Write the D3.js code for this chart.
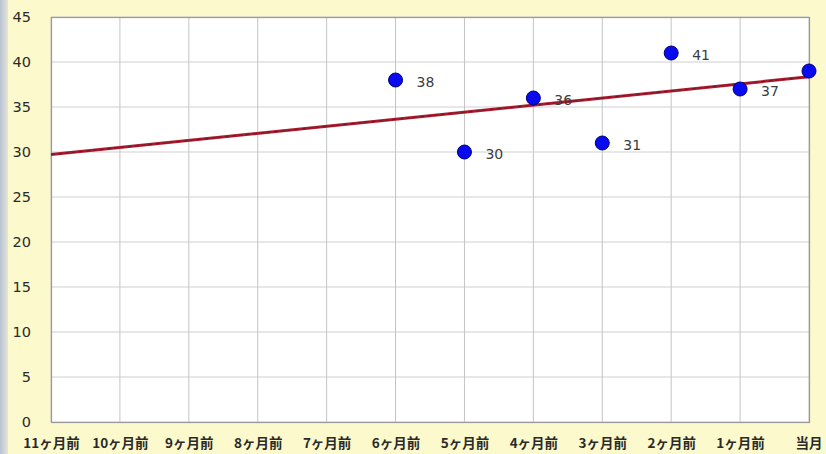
<!DOCTYPE html>
<html>
<head>
<meta charset="utf-8">
<script src="https://cdn.jsdelivr.net/npm/d3@7"></script>
<style>
  html, body { margin: 0; padding: 0; background: #fcf9cc; }
  svg { display: block; }
</style>
</head>
<body>
<svg id="chart" width="826" height="454"></svg>
<script>
// Months, oldest first
const categories = ["11ヶ月前", "10ヶ月前", "9ヶ月前", "8ヶ月前", "7ヶ月前", "6ヶ月前",
                    "5ヶ月前", "4ヶ月前", "3ヶ月前", "2ヶ月前", "1ヶ月前", "当月"];
// Monthly values (null = no data)
const values = [null, null, null, null, null, 38, 30, 36, 31, 41, 37, 39];
const yTicks = [0, 5, 10, 15, 20, 25, 30, 35, 40, 45];

const svg = d3.select("#chart");
const W = 826, H = 454;
const m = { left: 51, right: 17, top: 17, bottom: 32 };

// Window-frame strip on the left edge
const grad = svg.append("defs").append("linearGradient").attr("id", "frame");
grad.append("stop").attr("offset", "0%").attr("stop-color", "#b9c3d3");
grad.append("stop").attr("offset", "100%").attr("stop-color", "#e3e6d8");
svg.append("rect").attr("width", W).attr("height", H).attr("fill", "#fcf9cc");
svg.append("rect").attr("x", 0).attr("y", 0).attr("width", 8).attr("height", H).attr("fill", "url(#frame)");

const x = d3.scalePoint().domain(d3.range(categories.length)).range([m.left, W - m.right]);
const y = d3.scaleLinear().domain([0, 45]).range([H - m.bottom, m.top]);

// Plot area
svg.append("rect")
  .attr("x", m.left).attr("y", m.top)
  .attr("width", W - m.right - m.left).attr("height", H - m.bottom - m.top)
  .attr("fill", "#ffffff");

// Gridlines
svg.append("g").selectAll("line.h").data(yTicks).join("line")
  .attr("x1", m.left).attr("x2", W - m.right)
  .attr("y1", d => y(d)).attr("y2", d => y(d))
  .attr("stroke", "#cfcfcf").attr("stroke-width", 1);
svg.append("g").selectAll("line.v").data(d3.range(categories.length)).join("line")
  .attr("x1", d => x(d)).attr("x2", d => x(d))
  .attr("y1", m.top).attr("y2", H - m.bottom)
  .attr("stroke", "#c4c4c4").attr("stroke-width", 1);

// Plot border
svg.append("rect")
  .attr("x", m.left + 0.5).attr("y", m.top + 0.5)
  .attr("width", W - m.right - m.left).attr("height", H - m.bottom - m.top)
  .attr("fill", "none").attr("stroke", "#9a9a9a").attr("stroke-width", 1.2);

// Y axis labels
const yAxis = d3.axisLeft(y).tickValues(yTicks).tickSize(0).tickPadding(0);
const ya = svg.append("g").attr("transform", `translate(31,0)`).call(yAxis);
ya.select(".domain").remove();
ya.selectAll("text")
  .attr("font-family", "Tahoma, 'DejaVu Sans', sans-serif")
  .attr("font-size", 14.5).attr("fill", "#2a2a2a").attr("dy", "0.3em");

// X axis labels
const xAxis = d3.axisBottom(x).tickFormat(i => categories[i]).tickSize(0).tickPadding(0);
const xa = svg.append("g").attr("transform", `translate(0,${H - m.bottom})`).call(xAxis);
xa.select(".domain").remove();
xa.selectAll("text")
  .attr("font-family", "'Noto Sans CJK JP', sans-serif")
  .attr("font-weight", "bold")
  .attr("font-size", 13.5).attr("fill", "#2a2a2a").attr("y", 16);
xa.selectAll(".tick").filter(i => i === categories.length - 1)
  .select("text").attr("text-anchor", "end").attr("dx", 13);

// Linear trendline fitted to available months, extended across the whole range
const pts = values.map((v, i) => ({ i, v })).filter(d => d.v != null);
const mx = d3.mean(pts, d => d.i), my = d3.mean(pts, d => d.v);
const slope = d3.sum(pts, d => (d.i - mx) * (d.v - my)) / d3.sum(pts, d => (d.i - mx) ** 2);
const intercept = my - slope * mx;
const trend = [0, categories.length - 1].map(i => ({ i, v: intercept + slope * i }));
const line = d3.line().x(d => x(d.i)).y(d => y(d.v));
svg.append("path").datum(trend).attr("d", line)
  .attr("fill", "none").attr("stroke", "#a81c30").attr("stroke-width", 3);
svg.append("path").datum(trend).attr("d", line)
  .attr("fill", "none").attr("stroke", "#5a0e18").attr("stroke-width", 1)
  .attr("stroke-dasharray", "4,3").attr("opacity", 0.6);

// Data points
svg.append("g").selectAll("circle").data(pts).join("circle")
  .attr("cx", d => x(d.i)).attr("cy", d => y(d.v)).attr("r", 7)
  .attr("fill", "#0a0aee").attr("stroke", "#00007a").attr("stroke-width", 1);

// Value labels (the current month's label falls past the right edge of the view)
svg.append("g").selectAll("text").data(pts.filter(d => x(d.i) + 40 < W)).join("text")
  .attr("x", d => x(d.i) + 21).attr("y", d => y(d.v) + 7)
  .attr("font-family", "Tahoma, 'DejaVu Sans', sans-serif")
  .attr("font-size", 14).attr("fill", "#3c3c3c")
  .text(d => d.v);
</script>
</body>
</html>
